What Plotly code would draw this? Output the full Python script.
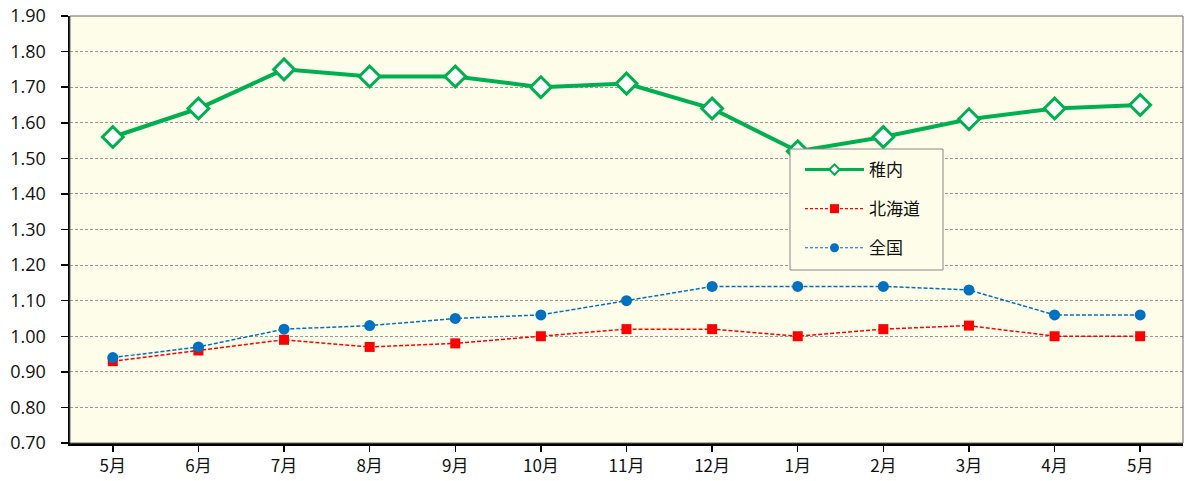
import plotly.graph_objects as go

months = ["5月", "6月", "7月", "8月", "9月", "10月", "11月", "12月", "1月", "2月", "3月", "4月", "5月"]
xpos = list(range(len(months)))
wakkanai = [1.56, 1.64, 1.75, 1.73, 1.73, 1.70, 1.71, 1.64, 1.52, 1.56, 1.61, 1.64, 1.65]
hokkaido = [0.93, 0.96, 0.99, 0.97, 0.98, 1.00, 1.02, 1.02, 1.00, 1.02, 1.03, 1.00, 1.00]
zenkoku = [0.94, 0.97, 1.02, 1.03, 1.05, 1.06, 1.10, 1.14, 1.14, 1.14, 1.13, 1.06, 1.06]
yticks = [0.70, 0.80, 0.90, 1.00, 1.10, 1.20, 1.30, 1.40, 1.50, 1.60, 1.70, 1.80, 1.90]

GREEN, RED, BLUE = "#00B050", "#FF0000", "#0070C0"
BG = "#FDFDEA"

W, H = 1184, 481
ML, MR, MT, MB = 70, 1, 16, 38
PW, PH = W - ML - MR, H - MT - MB


def px_x(px):
    return (px - ML) / PW


def px_y(py):
    return 1 - (py - MT) / PH


fig = go.Figure()
fig.add_trace(go.Scatter(
    x=xpos, y=wakkanai, name="稚内", mode="lines+markers", showlegend=False,
    line=dict(color=GREEN, width=4),
    marker=dict(symbol="diamond", size=16, color="white", line=dict(color=GREEN, width=3)),
))
fig.add_trace(go.Scatter(
    x=xpos, y=hokkaido, name="北海道", mode="lines+markers", showlegend=False,
    line=dict(color=RED, width=1.5, dash="4px,2px"),
    marker=dict(symbol="square", size=10, color=RED),
))
fig.add_trace(go.Scatter(
    x=xpos, y=zenkoku, name="全国", mode="lines+markers", showlegend=False,
    line=dict(color=BLUE, width=1.5, dash="4px,2px"),
    marker=dict(symbol="circle", size=11, color=BLUE),
))
# legend entries
fig.add_trace(go.Scatter(
    x=[None], y=[None], name="稚内", mode="lines+markers", legendgroup="a",
    line=dict(color=GREEN, width=3),
    marker=dict(symbol="diamond", size=8, color="white", line=dict(color=GREEN, width=2)),
))
fig.add_trace(go.Scatter(
    x=[None], y=[None], name="北海道", mode="lines+markers", legendgroup="b",
    line=dict(color=RED, width=1.2, dash="3px,2px"),
    marker=dict(symbol="square", size=9, color=RED),
))
fig.add_trace(go.Scatter(
    x=[None], y=[None], name="全国", mode="lines+markers", legendgroup="c",
    line=dict(color=BLUE, width=1.2, dash="3px,2px"),
    marker=dict(symbol="circle", size=9, color=BLUE),
))

fig.update_layout(
    width=W, height=H,
    margin=dict(l=ML, r=MR, t=MT, b=MB),
    paper_bgcolor="white",
    plot_bgcolor=BG,
    font=dict(family="Noto Sans CJK JP, Noto Sans, sans-serif", color="#111"),
    showlegend=True,
    hovermode=False,
    legend=dict(
        x=px_x(800), y=px_y(152), xanchor="left", yanchor="top",
        bgcolor="rgba(0,0,0,0)", borderwidth=0,
        font=dict(size=17), tracegroupgap=14, traceorder="grouped",
        itemwidth=59,
    ),
    shapes=[
        dict(type="rect", xref="paper", yref="paper", x0=0, x1=1, y0=0, y1=1,
             line=dict(color="#666", width=1), layer="above"),
        dict(type="rect", xref="paper", yref="paper",
             x0=px_x(790), x1=px_x(943), y0=px_y(270), y1=px_y(149),
             fillcolor=BG, line=dict(color="#888", width=1), layer="above"),
    ],
)
fig.update_xaxes(
    tickmode="array", tickvals=xpos, ticktext=months,
    range=[-0.5, len(months) - 0.5],
    showgrid=False, zeroline=False, ticks="outside", tickson="boundaries", ticklen=6,
    tickcolor="black", tickwidth=1.5,
    showline=True, linecolor="black", linewidth=2.5,
    tickfont=dict(size=17, family="Noto Sans CJK JP", color="#111"),
    automargin=False,
)
fig.update_yaxes(
    range=[0.70, 1.90], tickmode="array", tickvals=yticks,
    ticktext=[f"{v:.2f}" for v in yticks],
    showgrid=True, gridcolor="#999", griddash="3px,2px", gridwidth=1,
    zeroline=False, ticks="outside", ticklen=7, tickcolor="black", tickwidth=1.5,
    showline=True, linecolor="black", linewidth=2.5,
    tickfont=dict(size=18, family="Open Sans", color="#111"),
    ticklabelstandoff=11,
    automargin=False,
)
fig.write_html("out.html", config={"displayModeBar": False, "staticPlot": True},
               post_script="document.body.style.margin='0';")
